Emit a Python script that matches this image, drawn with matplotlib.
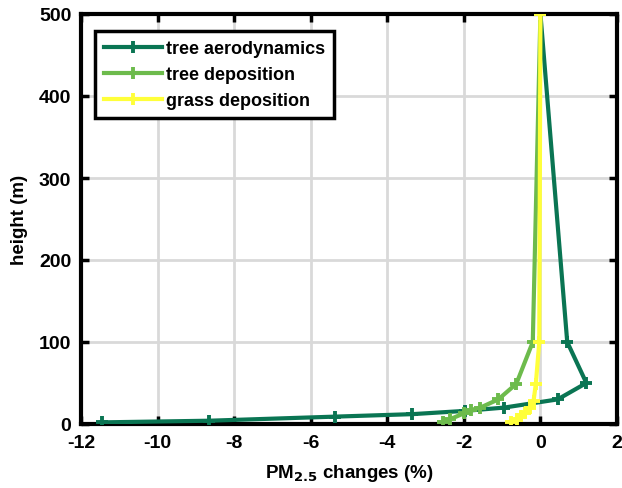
#!/usr/bin/env python3

import matplotlib.pyplot as plt

# PM2.5 change (%) vs height (m)
aero_x = [-11.45, -8.65, -5.36, -3.35, -1.97, -0.95, 0.45, 1.2, 0.7, 0.0]
aero_h = [2, 4, 9, 12, 16, 20, 30, 50, 100, 500]

tree_x = [-2.55, -2.35, -2.0, -1.82, -1.57, -1.1, -0.63, -0.2, 0.0]
tree_h = [2, 6, 13, 17, 20, 30, 49, 100, 500]

grass_x = [-0.78, -0.62, -0.5, -0.39, -0.27, -0.18, -0.12, -0.03, 0.0]
grass_h = [3, 6, 10, 14, 19, 28, 49, 100, 500]

labels = ['tree aerodynamics', 'tree deposition', 'grass deposition']
colors = ['#0a7553', '#6dbb4c', '#ffff3a']

xticks = [-12, -10, -8, -6, -4, -2, 0, 2]
yticks = [0, 100, 200, 300, 400, 500]


def main():
    plt.rcParams['font.family'] = ['Liberation Sans', 'DejaVu Sans']
    plt.rcParams['font.weight'] = 'bold'
    plt.rcParams['axes.unicode_minus'] = False

    fig = plt.figure(figsize=(6.22, 4.89), dpi=100)
    ax = fig.add_axes([81 / 622, 1 - 425 / 489, 536 / 622, 410 / 489])

    series = [(aero_x, aero_h), (tree_x, tree_h), (grass_x, grass_h)]
    for (xs, hs), label, color in zip(series, labels, colors):
        ax.plot(xs, hs, color=color, lw=3, marker='+', ms=9, mew=2.8,
                label=label, zorder=3)

    ax.set_xlim(-12, 2)
    ax.set_ylim(0, 500)
    ax.set_xticks(xticks)
    ax.set_yticks(yticks)
    ax.grid(True, color='#d9d9d9', lw=2)
    ax.set_axisbelow(True)
    ax.tick_params(direction='in', top=True, right=True, length=6, width=2.5,
                   labelsize=14, pad=7)
    for spine in ax.spines.values():
        spine.set_linewidth(3)

    ax.set_xlabel('PM$_{\\mathbf{2.5}}$ changes (%)', fontsize=13.5,
                  fontweight='bold', labelpad=8)
    ax.set_ylabel('height (m)', fontsize=13.5, fontweight='bold', labelpad=8)

    leg = ax.legend(loc='upper left', bbox_to_anchor=(0.027, 0.958),
                    fontsize=13, fancybox=False, framealpha=1,
                    handlelength=3.2, handletextpad=0.2, borderpad=0.5,
                    labelspacing=0.5, borderaxespad=0)
    leg.get_frame().set_edgecolor('black')
    leg.get_frame().set_linewidth(2.5)

    fig.savefig('out.png', dpi=100)


if __name__ == '__main__':
    main()
